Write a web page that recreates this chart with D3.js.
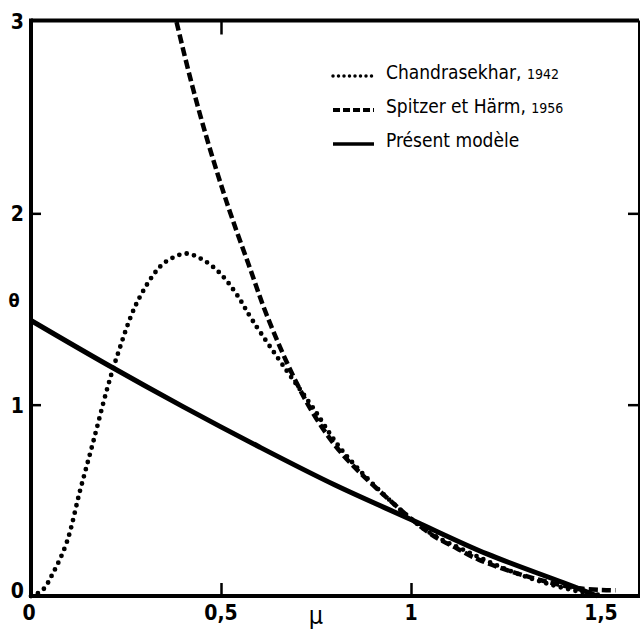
<!DOCTYPE html>
<html>
<head>
<meta charset="utf-8">
<script src="https://cdn.jsdelivr.net/npm/d3@7"></script>
<style>
  html, body { margin: 0; padding: 0; background: #fff; }
  svg { display: block; }
  .tick-label { font-family: "DejaVu Sans Condensed", "Liberation Sans Narrow", "DejaVu Sans", sans-serif; font-weight: bold; font-stretch: condensed; }
  .legend { font-family: "DejaVu Sans Condensed", "Liberation Sans Narrow", "DejaVu Sans", sans-serif; font-stretch: condensed; }
</style>
</head>
<body>
<svg id="chart" width="642" height="635"></svg>
<script>
// ---- Data ----
const xTicks = [0, 0.5, 1, 1.5];
const xTickLabels = ["0", "0,5", "1", "1,5"];
const yTicks = [0, 1, 2, 3];
const yTickLabels = ["0", "1", "2", "3"];

const seriesNames = ["Chandrasekhar, ", "Spitzer et Härm, ", "Présent modèle"];
const seriesYears = ["1942", "1956", ""];

// Chandrasekhar, 1942 (dotted)
const chandraMu    = [0, 0.03, 0.058, 0.094, 0.129, 0.163, 0.2, 0.226, 0.278, 0.339, 0.375, 0.409, 0.45, 0.496, 0.54, 0.583, 0.672, 0.74, 0.819, 0.95, 1.05, 1.15, 1.25, 1.35, 1.45, 1.5];
const chandraTheta = [0, 0.03, 0.12, 0.28, 0.55, 0.80, 1.08, 1.25, 1.53, 1.72, 1.77, 1.79, 1.76, 1.69, 1.58, 1.44, 1.18, 0.99, 0.76, 0.49, 0.33, 0.23, 0.14, 0.07, 0.02, 0.005];

// Spitzer et Härm, 1956 (dashed)
const spitzerMu    = [0.383, 0.42, 0.46, 0.50, 0.53, 0.575, 0.62, 0.69, 0.75, 0.82, 0.95, 1.055, 1.12, 1.178, 1.31, 1.441, 1.538];
const spitzerTheta = [3.0, 2.70, 2.41, 2.15, 1.97, 1.72, 1.47, 1.15, 0.93, 0.74, 0.49, 0.32, 0.25, 0.19, 0.10, 0.04, 0.03];

// Présent modèle (solid)
const modelMu    = [0, 0.2, 0.4, 0.6, 0.8, 1.0, 1.2, 1.4, 1.49];
const modelTheta = [1.44, 1.21, 0.99, 0.78, 0.58, 0.40, 0.22, 0.07, 0.0];

// ---- Layout ----
const svg = d3.select("#chart");
const x = d3.scaleLinear().domain([0, 1.6]).range([31, 639]);
const y = d3.scaleLinear().domain([0, 3]).range([596, 22]);

const line = d3.line().x(d => x(d[0])).y(d => y(d[1])).curve(d3.curveCatmullRom.alpha(0.5));
const zip = (a, b) => a.map((v, i) => [v, b[i]]);

// Frame
const frame = svg.append("g");
frame.append("line").attr("x1", x(0)).attr("x2", x(1.6)).attr("y1", y(0)).attr("y2", y(0)).attr("stroke", "#000").attr("stroke-width", 4);
frame.append("line").attr("x1", x(0)).attr("x2", x(1.6)).attr("y1", y(3) - 1.5).attr("y2", y(3) - 1.5).attr("stroke", "#000").attr("stroke-width", 4);
frame.append("line").attr("x1", x(0)).attr("x2", x(0)).attr("y1", y(3) - 3.5).attr("y2", y(0) + 2).attr("stroke", "#000").attr("stroke-width", 4);
frame.append("line").attr("x1", x(1.6)).attr("x2", x(1.6)).attr("y1", y(3) - 1.5).attr("y2", y(0) + 2).attr("stroke", "#000").attr("stroke-width", 2);

// Axes via d3 (inward ticks, no domain path)
const bottomAxis = d3.axisBottom(x).tickValues([0.5, 1]).tickSize(-13).tickFormat("");
const gB = svg.append("g").attr("transform", `translate(0,${y(0)})`).call(bottomAxis);
const topAxis = d3.axisTop(x).tickValues([0.5]).tickSize(-14).tickFormat("");
const gT = svg.append("g").attr("transform", `translate(0,${y(3) - 1.5})`).call(topAxis);
const leftAxis = d3.axisLeft(y).tickValues([1, 2]).tickSize(-10).tickFormat("");
const gL = svg.append("g").attr("transform", `translate(${x(0)},0)`).call(leftAxis);
const rightAxis = d3.axisRight(y).tickValues([1, 2]).tickSize(-11).tickFormat("");
const gR = svg.append("g").attr("transform", `translate(${x(1.6)},0)`).call(rightAxis);
[gB, gT, gL, gR].forEach(g => {
  g.select(".domain").remove();
  g.selectAll(".tick line").attr("stroke", "#000").attr("stroke-width", 2.5);
});

// Tick labels
svg.append("g").selectAll("text").data(xTicks).join("text")
  .attr("class", "tick-label")
  .attr("x", (d, i) => x(d) + (i === 0 ? -2 : 0))
  .attr("y", 620)
  .attr("text-anchor", "middle")
  .attr("font-size", 21)
  .text((d, i) => xTickLabels[i]);

svg.append("g").selectAll("text").data(yTicks).join("text")
  .attr("class", "tick-label")
  .attr("x", 24)
  .attr("y", d => y(d) + (d === 0 ? 2 : d === 3 ? 7 : 8))
  .attr("text-anchor", "end")
  .attr("font-size", 21)
  .text((d, i) => yTickLabels[i]);

// Axis titles
svg.append("text").attr("class", "tick-label").attr("x", 14).attr("y", 307)
  .attr("text-anchor", "middle").attr("font-size", 18).text("θ");
svg.append("text").attr("class", "legend").attr("x", 316).attr("y", 624)
  .attr("text-anchor", "middle").attr("font-size", 25).text("μ");

// Curves
const curves = svg.append("g").attr("fill", "none").attr("stroke", "#000");
curves.append("path").datum(zip(chandraMu, chandraTheta)).attr("d", line)
  .attr("stroke-width", 4.8).attr("stroke-dasharray", "0 7.5").attr("stroke-linecap", "round");
curves.append("path").datum(zip(spitzerMu, spitzerTheta)).attr("d", line)
  .attr("stroke-width", 4.5).attr("stroke-dasharray", "9 4");
curves.append("path").datum(zip(modelMu, modelTheta)).attr("d", line)
  .attr("stroke-width", 5);

// Legend
const legendRows = [
  { name: seriesNames[0], year: seriesYears[0], dash: "0 5.5", cap: "round", w: 3.5, baseline: 79 },
  { name: seriesNames[1], year: seriesYears[1], dash: "7 3", cap: "butt", w: 4, baseline: 113 },
  { name: seriesNames[2], year: seriesYears[2], dash: null, cap: "butt", w: 3.5, baseline: 147 }
];
const lg = svg.append("g");
legendRows.forEach(r => {
  lg.append("line").attr("x1", 333).attr("x2", 374).attr("y1", r.baseline - 3).attr("y2", r.baseline - 3)
    .attr("stroke", "#000").attr("stroke-width", r.w).attr("stroke-dasharray", r.dash).attr("stroke-linecap", r.cap);
  const t = lg.append("text").attr("class", "legend").attr("x", 386).attr("y", r.baseline).attr("font-size", 19);
  t.append("tspan").text(r.name);
  if (r.year) t.append("tspan").attr("font-size", 14).text(r.year);
});
</script>
</body>
</html>
